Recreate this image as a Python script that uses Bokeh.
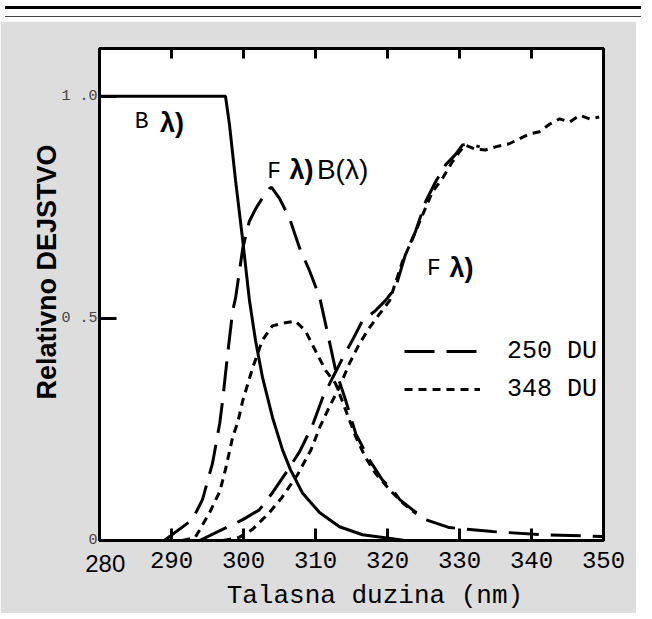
from bokeh.plotting import figure
from bokeh.models import (Range1d, LinearAxis, Label, Legend, LegendItem, FixedTicker, Div,
                          CustomJSTickFormatter)
from bokeh.layouts import column
from bokeh.embed import file_html
from bokeh.resources import INLINE

# ---------------- data ----------------
x_ticks = [280, 290, 300, 310, 320, 330, 340, 350]
y_ticks = [0, 0.5, 1.0]
y_tick_labels = {0: "0", 0.5: "0 .5", 1: "1 .0"}
x_first_label = "280"
x_title = "Talasna duzina (nm)"
y_title = "Relativno DEJSTVO"

# B(lambda) - action spectrum (solid)
b_x = [280, 297.5, 298.06, 298.9, 299.86, 300.83, 301.67, 302.64, 304.03, 305.42,
       306.53, 308.19, 310.56, 313.33, 316.53, 320.69, 322.4]
b_y = [1.0, 1.0, 0.935, 0.81, 0.68, 0.54, 0.45, 0.367, 0.277, 0.204,
       0.159, 0.107, 0.063, 0.031, 0.013, 0.004, 0.0]

# F(lambda)B(lambda), 250 DU (dashed)
fb250_x = [289.0, 292.9, 294.3, 295.7, 296.1, 296.7, 297.1, 297.8, 298.5, 298.9,
           299.9, 300.8, 301.7, 302.6, 303.6, 303.9, 305.0, 306.4, 307.8, 309.2,
           310.6, 311.7, 312.8, 314.2, 315.6, 317.5, 319.3, 320.7, 321.7, 323.5,
           325.3, 328.6, 334.6, 341.5, 349.9]
fb250_y = [0.0, 0.047, 0.092, 0.174, 0.21, 0.264, 0.315, 0.42, 0.517, 0.546,
           0.658, 0.718, 0.747, 0.77, 0.792, 0.795, 0.77, 0.725, 0.658, 0.606,
           0.546, 0.465, 0.383, 0.315, 0.24, 0.181, 0.136, 0.114, 0.092, 0.069,
           0.047, 0.029, 0.02, 0.013, 0.009]

# F(lambda)B(lambda), 348 DU (dotted)
fb348_x = [291.5, 293.3, 295.3, 296.7, 297.5, 298.5, 299.2, 299.9, 301.3, 302.6,
           304.0, 305.8, 307.2, 308.6, 310.0, 311.4, 312.8, 314.2, 315.6, 316.9,
           318.3, 320.3, 322.1, 324.0]
fb348_y = [0.0, 0.007, 0.063, 0.11, 0.16, 0.233, 0.266, 0.315, 0.39, 0.45,
           0.483, 0.49, 0.494, 0.472, 0.427, 0.383, 0.353, 0.293, 0.233, 0.188,
           0.152, 0.114, 0.085, 0.06]

# F(lambda), 250 DU (dashed)
f250_x = [293.9, 297.1, 299.9, 302.2, 304.0, 305.8, 307.8, 309.6, 311.0, 312.4,
          313.75, 315.1, 316.5, 318.3, 319.7, 321.1, 322.5, 323.9, 325.3, 326.7,
          328.1, 329.4, 330.4, 331.4, 332.8]
f250_y = [0.0, 0.025, 0.047, 0.069, 0.107, 0.15, 0.2, 0.26, 0.322, 0.367,
          0.41, 0.45, 0.494, 0.517, 0.54, 0.568, 0.644, 0.696, 0.763, 0.808,
          0.846, 0.868, 0.89, 0.893, 0.886]

# F(lambda), 348 DU (dotted)
f348_x = [297.2, 299.4, 301.25, 303.6, 305.4, 307.5, 309.4, 310.6, 311.9, 313.3,
          314.7, 316.1, 317.5, 318.9, 320.3, 320.7, 322.1, 323.5, 324.9, 326.25,
          327.6, 329.0, 330.0, 330.8, 332.2, 333.6, 335.0, 336.9, 338.3, 339.7,
          341.1, 342.5, 343.9, 345.3, 346.7, 348.1, 349.4]
f348_y = [0.0, 0.007, 0.025, 0.063, 0.098, 0.148, 0.205, 0.255, 0.3, 0.345,
          0.398, 0.443, 0.479, 0.51, 0.54, 0.56, 0.629, 0.68, 0.734, 0.785,
          0.814, 0.852, 0.875, 0.89, 0.881, 0.879, 0.886, 0.893, 0.904, 0.915,
          0.92, 0.937, 0.949, 0.942, 0.957, 0.949, 0.953]

legend_labels = ["250 DU", "348 DU"]

MONO = "Liberation Mono"
SANS = "Liberation Sans"
DASH = "30 12"
DOT = "8 6"
NBSP = "\u00a0"

# ---------------- figure ----------------
p = figure(width=636, height=592,
           x_range=Range1d(280, 350), y_range=Range1d(0, 1.1074),
           output_backend="svg", toolbar_location=None,
           min_border_left=99, min_border_right=33,
           min_border_top=27, min_border_bottom=70,
           border_fill_color="#dddddd", background_fill_color="white",
           outline_line_color="black", outline_line_width=3)
p.grid.visible = False


def bare_axis(**kw):
    """An axis without rule or tick marks, used to carry texts."""
    base = dict(axis_line_color=None, major_tick_line_color=None, minor_tick_line_color=None,
                major_tick_in=0, major_tick_out=0, minor_tick_in=0, minor_tick_out=0,
                major_label_standoff=0)
    base.update(kw)
    return LinearAxis(**base)


# x axis (bottom): tick marks and the mono tick labels
xa = p.xaxis[0]
xa.ticker = FixedTicker(ticks=x_ticks)
xa.major_label_overrides = {280: ""}
xa.axis_line_color = None
xa.major_tick_in = 12
xa.major_tick_out = 0
xa.minor_tick_line_color = None
xa.minor_tick_out = 0
xa.major_tick_line_width = 3
xa.major_label_text_font = MONO
xa.major_label_text_font_size = "24px"
xa.major_label_text_color = "black"
xa.major_label_standoff = 11

# the sans "280" (set slightly right of its tick, as in the original) and the title
xc = bare_axis(ticker=FixedTicker(ticks=[x_ticks[0] + 0.8]),
               formatter=CustomJSTickFormatter(code="return '%s';" % x_first_label),
               major_label_text_font=SANS, major_label_text_font_size="24px",
               major_label_text_color="black", major_label_standoff=-16,
               axis_label=NBSP * 3 + x_title, axis_label_text_font=MONO,
               axis_label_text_font_size="26px", axis_label_text_font_style="normal",
               axis_label_text_color="black", axis_label_standoff=6)
p.add_layout(xc, "below")

# top axis (ticks only)
top = LinearAxis(ticker=FixedTicker(ticks=x_ticks), major_tick_in=10, major_tick_out=0,
                 major_tick_line_width=3, minor_tick_line_color=None, minor_tick_out=0,
                 major_label_overrides={t: "" for t in x_ticks}, axis_line_width=3)
p.add_layout(top, "above")

# y axis
ya = p.yaxis[0]
ya.ticker = FixedTicker(ticks=y_ticks)
ya.major_label_overrides = y_tick_labels
ya.axis_line_color = None
ya.major_tick_in = 17
ya.major_tick_out = 0
ya.minor_tick_line_color = None
ya.minor_tick_out = 0
ya.major_tick_line_width = 3
ya.major_label_text_font = MONO
ya.major_label_text_font_size = "15px"
ya.major_label_text_color = "#444444"
ya.major_label_standoff = 2

# y title (leading no-break spaces lift it above the frame centre, as in the original)
yb = bare_axis(ticker=FixedTicker(ticks=[]),
               axis_label=NBSP * 6 + y_title, axis_label_text_font=SANS,
               axis_label_text_font_style="bold", axis_label_text_font_size="27px",
               axis_label_text_color="black", axis_label_standoff=-3)
p.add_layout(yb, "left")

# ---------------- curves ----------------
p.line(b_x, b_y, line_color="black", line_width=3)
r250 = p.line(fb250_x, fb250_y, line_color="black", line_width=3, line_dash=DASH)
r348 = p.line(fb348_x, fb348_y, line_color="black", line_width=3, line_dash=DOT)
p.line(f250_x, f250_y, line_color="black", line_width=3, line_dash=DASH)
p.line(f348_x, f348_y, line_color="black", line_width=3, line_dash=DOT)

legend = Legend(items=[LegendItem(label=legend_labels[0], renderers=[r250]),
                       LegendItem(label=legend_labels[1], renderers=[r348])],
                location=(305, 136), glyph_width=76, glyph_height=30, label_height=30,
                spacing=8, padding=0, margin=0, border_line_color=None,
                background_fill_alpha=0, label_standoff=27,
                label_text_font=MONO, label_text_font_size="25px",
                label_text_color="black")
p.add_layout(legend)

# ---------------- annotations inside the frame ----------------
def lab(x, y, text, font, size, style="normal"):
    p.add_layout(Label(x=x, y=y, text=text, text_font=font, text_font_size=size,
                       text_font_style=style, text_align="left",
                       text_baseline="middle", text_color="black"))

lab(284.9, 0.942, "B", MONO, "23px")
lab(288.4, 0.94, "λ)", SANS, "27px", "bold")
lab(303.3, 0.83, "F", MONO, "23px")
lab(306.4, 0.835, "λ)", SANS, "27px", "bold")
lab(310.2, 0.835, "B(λ)", SANS, "28px")
lab(325.5, 0.61, "F", MONO, "23px")
lab(328.6, 0.613, "λ)", SANS, "27px", "bold")

# ---------------- page frame ----------------
top_div = Div(width=636, height=11, text=(
    '<div style="position:relative;width:636px;height:11px;">'
    '<div style="position:absolute;left:0;top:0;width:636px;height:3px;background:#000;"></div>'
    '<div style="position:absolute;left:0;top:10px;width:636px;height:1px;background:#444;"></div>'
    '</div>'))

layout = column(top_div, p, spacing=0)

open("out.html", "w").write(file_html(layout, INLINE))
